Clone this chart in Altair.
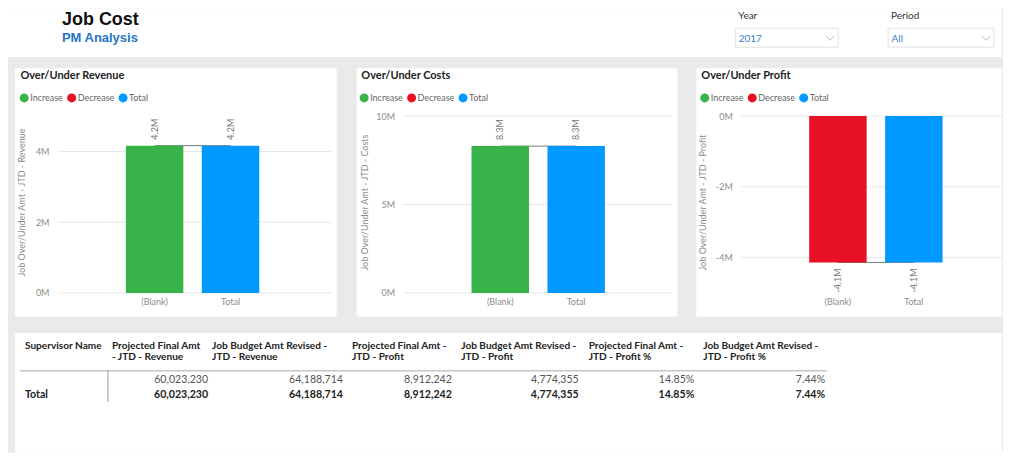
import altair as alt
import pandas as pd

# ---------------- data ----------------
report_title = "Job Cost"
report_subtitle = "PM Analysis"
slicer_labels = ["Year", "Period"]
slicer_values = ["2017", "All"]

panel_titles = ["Over/Under Revenue", "Over/Under Costs", "Over/Under Profit"]
axis_titles = [
    "Job Over/Under Amt - JTD - Revenue",
    "Job Over/Under Amt - JTD - Costs",
    "Job Over/Under Amt - JTD - Profit",
]
categories = ["(Blank)", "Total"]
over_under = [4165484, 8303371, -4137887]
legend_kinds = ["Increase", "Decrease", "Total"]
y_domains = [[0, 5000000], [0, 10000000], [-5000000, 0]]
y_ticks = [[0, 2000000, 4000000], [0, 5000000, 10000000], [-4000000, -2000000, 0]]

table_head_1 = ["Supervisor Name", "Projected Final Amt", "Job Budget Amt Revised -",
                "Projected Final Amt -", "Job Budget Amt Revised -",
                "Projected Final Amt -", "Job Budget Amt Revised -"]
table_head_2 = ["", "- JTD - Revenue", "JTD - Revenue", "JTD - Profit", "JTD - Profit",
                "JTD - Profit %", "JTD - Profit %"]
row_names = ["", "Total"]
proj_final_revenue = [60023230, 60023230]
budget_revised_revenue = [64188714, 64188714]
proj_final_profit = [8912242, 8912242]
budget_revised_profit = [4774355, 4774355]
proj_final_profit_pct = [0.1485, 0.1485]
budget_revised_profit_pct = [0.0744, 0.0744]

# ---------------- style ----------------
BG = "#eaeaea"
WHITE = "#ffffff"
COLORS = ["#37B34A", "#E81123", "#0099FF"]
FONT = "Lato"
AXIS_GRAY = "#8c8c8c"
TOTAL_W = 995
HX = 50  # origin shift so that all rows share the first panel's plot origin
HEAD_FS = 10.1
TABLE_FS = 10.6

one = pd.DataFrame({"k": [0]})


def box(x0, x1, y0, y1, dx=0, **kw):
    return alt.Chart(one).mark_rect(**kw).encode(
        x=alt.value(x0 - dx), x2=alt.value(x1 - dx), y=alt.value(y0), y2=alt.value(y1))


def label(text, x, y, dx=0, **kw):
    return alt.Chart(pd.DataFrame({"t": [text]})).mark_text(**kw).encode(
        text="t:N", x=alt.value(x - dx), y=alt.value(y))


# ---------------- header ----------------
header_layers = [
    box(0, TOTAL_W, 0, 49, HX, color=WHITE),
    label(report_title, 54, 17, HX, align="left", baseline="alphabetic",
          font="Liberation Sans", fontSize=18, fontWeight="bold", color="#111111"),
    label(report_subtitle, 54, 34, HX, align="left", baseline="alphabetic",
          font="Liberation Sans", fontSize=13, fontWeight="bold", color="#2576c7"),
]
slicer_x = [(728, 831), (881, 987)]
for (sx0, sx1), lab, val in zip(slicer_x, slicer_labels, slicer_values):
    header_layers += [
        label(lab, sx0 + 3, 8, HX, align="left", baseline="middle", font=FONT,
              fontSize=10, color="#333333"),
        box(sx0, sx1, 20, 39, HX, fill=WHITE, stroke="#e1e1e1", strokeWidth=1),
        label(val, sx0 + 3.5, 31, HX, align="left", baseline="middle", font=FONT,
              fontSize=10, color="#3a7cc6"),
        alt.Chart(one).mark_point(shape="M -1 -0.5 L 0 0.5 L 1 -0.5", filled=False,
                                  size=64, strokeWidth=1, color="#9a9a9a").encode(
            x=alt.value(sx1 - 8 - HX), y=alt.value(30)),
    ]
header = alt.layer(*header_layers).properties(width=TOTAL_W - HX, height=49)


# ---------------- waterfall panels ----------------
def panel(i, W, cell_x, white_x, title_x, legend_x, ytitle_x):
    v = over_under[i]
    kind = "Increase" if v >= 0 else "Decrease"
    df = pd.DataFrame({"cat": categories, "kind": [kind, "Total"],
                       "start": [0, 0], "end": [v, v]})
    step, bar, first = 76.0, 57.5, 68.0
    pi = 1 - bar / step
    po = (W / step - 2 + pi) / 2
    al = first / (W - step * (2 - pi))
    xscale = alt.Scale(domain=categories, paddingInner=pi, paddingOuter=po,
                       align=al, round=False)
    yscale = alt.Scale(domain=y_domains[i], nice=False, zero=False)
    xaxis = alt.Axis(title=None, domain=False, ticks=False, grid=False, labelAngle=0,
                     labelFont=FONT, labelFontSize=9, labelColor=AXIS_GRAY,
                     labelPadding=5, zindex=1)
    yaxis = alt.Axis(values=y_ticks[i], grid=False, domain=False, ticks=False,
                     labelExpr="datum.value/1000000 + 'M'", labelFont=FONT,
                     labelFontSize=9, labelColor=AXIS_GRAY, labelPadding=9,
                     title=axis_titles[i], titleFont=FONT, titleFontSize=9,
                     titleFontWeight="normal", titleColor=AXIS_GRAY,
                     titleX=ytitle_x, titleY=86, titleAngle=270,
                     titleAlign="center", titleBaseline="middle", zindex=1)
    X = alt.X("cat:N", scale=xscale, axis=xaxis, sort=categories)

    cell = box(cell_x[0], cell_x[1], -59, 209, color=BG)
    white = box(white_x[0], white_x[1], -48, 200.5, color=WHITE)
    title = label(panel_titles[i], title_x, -40, align="left", baseline="middle",
                  font=FONT, fontSize=11, fontWeight="bold", color="#222222")
    grid = alt.Chart(pd.DataFrame({"tick": y_ticks[i]})).mark_rule(
        color="#e8e8e8", strokeWidth=1).encode(
        y=alt.Y("tick:Q", scale=yscale, axis=yaxis), x=alt.value(0), x2=alt.value(W))
    connector = alt.Chart(df).mark_line(color="#7a7a7a", strokeWidth=1).encode(
        x=X, y=alt.Y("end:Q", scale=yscale, axis=yaxis))
    bars = alt.Chart(df).mark_bar().encode(
        x=X,
        y=alt.Y("start:Q", scale=yscale, axis=yaxis),
        y2="end:Q",
        color=alt.Color("kind:N", scale=alt.Scale(domain=legend_kinds, range=COLORS),
                        legend=alt.Legend(title=None, orient="none", legendX=legend_x,
                                          legendY=-23, direction="horizontal",
                                          symbolType="circle", symbolSize=81,
                                          symbolStrokeWidth=0, symbolOpacity=1,
                                          labelFont=FONT, labelFontSize=9,
                                          labelColor="#666666", labelOffset=1.5,
                                          columnPadding=3.5, padding=0, zindex=1)),
    )
    pos = v >= 0
    labels = alt.Chart(df).transform_calculate(
        lab="round(datum.end/100000)/10 + 'M'"
    ).mark_text(angle=270, align="left" if pos else "right", baseline="middle",
                dx=6 if pos else -6, font=FONT, fontSize=9, color="#777777").encode(
        x=X, y=alt.Y("end:Q", scale=yscale, axis=yaxis), text="lab:N")
    return alt.layer(cell, white, title, grid, connector, bars, labels).properties(
        width=W, height=177)


p1 = panel(0, 274, (-50, 289), (-43, 279), -37.6, -38.3, -36)
p2 = panel(1, 269, (-57, 284), (-47, 274), -42.3, -44, -39)
p3 = panel(2, 261, (-54, 261), (-45, 261), -40, -41, -39)
panels = alt.hconcat(p1, p2, p3, spacing=0).resolve_scale(
    color="independent", x="independent", y="independent"
).resolve_legend(color="independent")

# ---------------- table ----------------
head_x = [17, 104, 204.3, 344.3, 453.7, 581.3, 696]
value_right = [200.3, 335.3, 444.3, 571.3, 687, 818]
value_cols = [proj_final_revenue, budget_revised_revenue, proj_final_profit,
              budget_revised_profit, proj_final_profit_pct, budget_revised_profit_pct]
value_fmt = [",d", ",d", ",d", ",d", ".2%", ".2%"]
row_y = [55, 70]

table_layers = [
    box(0, TOTAL_W, 0, 128, HX, color=BG),
    box(7, TOTAL_W, 8, 128, HX, color=WHITE),
]
for hx, h1, h2 in zip(head_x, table_head_1, table_head_2):
    table_layers.append(label(h1, hx, 20.7, HX, align="left", baseline="middle",
                              font=FONT, fontSize=HEAD_FS, fontWeight="bold",
                              color="#222222"))
    if h2:
        table_layers.append(label(h2, hx, 31.9, HX, align="left", baseline="middle",
                                  font=FONT, fontSize=HEAD_FS, fontWeight="bold",
                                  color="#222222"))
table_layers.append(alt.Chart(one).mark_rule(color="#a8a8a8", strokeWidth=1).encode(
    x=alt.value(12 - HX), x2=alt.value(820 - HX), y=alt.value(46)))
table_layers.append(alt.Chart(one).mark_rule(color="#999999", strokeWidth=1).encode(
    x=alt.value(100 - HX), y=alt.value(46), y2=alt.value(77)))
for r, ry in enumerate(row_y):
    bold = r == 1
    weight = "bold" if bold else "normal"
    col = "#222222" if bold else "#555555"
    if row_names[r]:
        table_layers.append(label(row_names[r], 17, ry, HX, align="left",
                                  baseline="middle", font=FONT, fontSize=TABLE_FS,
                                  fontWeight=weight, color=col))
    for c, (xr, vals, fmt) in enumerate(zip(value_right, value_cols, value_fmt)):
        table_layers.append(
            alt.Chart(pd.DataFrame({"v": [vals[r]]})).mark_text(
                align="right", baseline="middle", font=FONT, fontSize=TABLE_FS,
                fontWeight=weight, color=col).encode(
                text=alt.Text("v:Q", format=fmt), x=alt.value(xr - HX),
                y=alt.value(ry)))
table = alt.layer(*table_layers).properties(width=TOTAL_W - HX, height=128)

chart = alt.vconcat(header, panels, table, spacing=0).properties(
    padding=0, background=BG
).configure_view(stroke=None)

chart.save("out.html", embed_options={"renderer": "svg", "actions": False})
